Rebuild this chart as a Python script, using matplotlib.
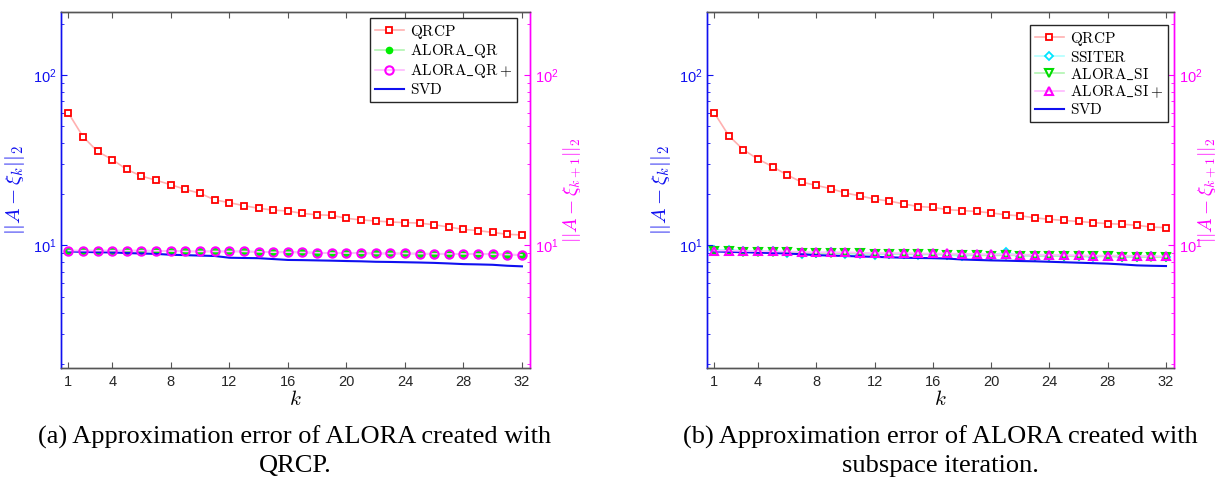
import matplotlib
matplotlib.use('Agg')
import matplotlib.pyplot as plt

plt.rcParams['mathtext.fontset'] = 'cm'
plt.rcParams['font.family'] = ['Liberation Sans', 'DejaVu Sans']

k = list(range(1, 33))
xticks = [1, 4, 8, 12, 16, 20, 24, 28, 32]

# panel (a): ALORA built with QRCP
qrcp_a = [60, 43.5, 35.6, 31.9, 27.9, 25.5, 24.1, 22.7, 21.3, 20.2, 18.5, 17.8, 17.1, 16.5, 16.1, 15.9,
          15.4, 15.1, 15.0, 14.4, 14.1, 13.9, 13.7, 13.6, 13.5, 13.2, 12.8, 12.4, 12.2, 11.9, 11.6, 11.5]
alora_qr = [9.3, 9.3, 9.3, 9.3, 9.3, 9.3, 9.28, 9.25, 9.2, 9.2, 9.2, 9.2, 9.2, 9.15, 9.1, 9.1,
            9.08, 9.05, 9.0, 9.0, 8.98, 8.95, 8.95, 8.95, 8.93, 8.92, 8.9, 8.9, 8.88, 8.85, 8.82, 8.78]
alora_qr_plus = [9.3, 9.3, 9.3, 9.3, 9.3, 9.3, 9.28, 9.25, 9.2, 9.2, 9.2, 9.2, 9.2, 9.15, 9.1, 9.1,
                 9.08, 9.05, 9.0, 9.0, 8.98, 8.95, 8.95, 8.95, 8.93, 8.92, 8.9, 8.9, 8.88, 8.85, 8.82, 8.78]
svd = [9.2, 9.15, 9.1, 9.08, 9.0, 8.95, 8.9, 8.8, 8.75, 8.7, 8.65, 8.45, 8.42, 8.4, 8.3, 8.2,
       8.18, 8.15, 8.12, 8.08, 8.05, 8.0, 7.98, 7.95, 7.92, 7.88, 7.82, 7.75, 7.72, 7.68, 7.58, 7.52]

# panel (b): ALORA built with subspace iteration
qrcp_b = [60, 44.0, 36.4, 32.1, 29.0, 25.9, 23.5, 22.5, 21.5, 20.3, 19.5, 18.7, 18.2, 17.5, 16.9, 16.7,
          16.2, 16.0, 15.8, 15.5, 15.1, 14.9, 14.5, 14.2, 14.0, 13.8, 13.6, 13.4, 13.3, 13.1, 12.8, 12.7]
ssiter = [9.4, 9.4, 9.3, 9.25, 9.2, 9.0, 8.9, 9.0, 9.1, 8.9, 8.9, 8.8, 8.9, 8.85, 8.8, 8.85,
          8.8, 8.6, 8.8, 8.75, 9.1, 8.7, 8.65, 8.6, 8.7, 8.6, 8.55, 8.7, 8.5, 8.55, 8.6, 8.5]
alora_si = [9.2, 9.2, 9.15, 9.15, 9.1, 9.1, 9.05, 9.0, 9.0, 8.95, 8.95, 8.9, 8.9, 8.9, 8.85, 8.85,
            8.8, 8.8, 8.75, 8.7, 8.75, 8.7, 8.65, 8.65, 8.65, 8.6, 8.6, 8.6, 8.55, 8.55, 8.5, 8.55]
alora_si_plus = [9.3, 9.3, 9.25, 9.25, 9.2, 9.2, 9.15, 9.1, 9.1, 9.1, 9.05, 9.0, 9.0, 9.0, 8.95, 8.95,
                 8.95, 8.9, 8.9, 8.85, 8.85, 8.8, 8.8, 8.8, 8.75, 8.75, 8.7, 8.7, 8.7, 8.65, 8.65, 8.6]
svd_b = [9.2, 9.15, 9.1, 9.05, 9.0, 8.95, 8.85, 8.75, 8.7, 8.65, 8.6, 8.55, 8.5, 8.45, 8.42, 8.4,
         8.35, 8.25, 8.2, 8.15, 8.12, 8.08, 8.05, 8.0, 7.95, 7.9, 7.85, 7.8, 7.72, 7.62, 7.58, 7.55]

YLIM = (1.9, 235)
BLUE = '#1010f0'
MAG = '#ff00ff'


def style_axes(ax, ax_r, rpad):
    for a in (ax, ax_r):
        a.set_yscale('log')
        a.set_ylim(*YLIM)
        a.set_xlim(0.5, 32.55)
        a.spines['top'].set_color('#555555')
        a.spines['bottom'].set_color('#555555')
        a.spines['left'].set_color(BLUE)
        a.spines['right'].set_color(MAG)
        for s in a.spines.values():
            s.set_linewidth(1.0)
    ax.set_xticks(xticks)
    ax.tick_params(axis='x', direction='in', top=True, length=4, colors='#555555',
                   labelcolor='#262626', labelsize=10.5, pad=5)
    ax.tick_params(axis='y', which='both', direction='in', colors=BLUE, labelsize=10.5)
    ax.tick_params(axis='y', which='major', length=4)
    ax.tick_params(axis='y', which='minor', length=2.5)
    ax_r.tick_params(axis='y', which='both', direction='in', colors=MAG, labelsize=10.5)
    ax_r.tick_params(axis='y', which='major', length=4)
    ax_r.tick_params(axis='y', which='minor', length=2.5)
    ax.set_xlabel(r'$k$', fontsize=15, labelpad=1)
    ax.set_ylabel(r'$||A-\xi_k||_2$', color=BLUE, fontsize=15, labelpad=4)
    ax_r.set_ylabel(r'$||A-\xi_{k+1}||_2$', color=MAG, fontsize=14, labelpad=rpad)


def add_legend(ax, handles, anchor):
    leg = ax.legend(handles=handles, loc='upper right', bbox_to_anchor=anchor,
                    borderaxespad=0, fancybox=False, edgecolor='#262626', fontsize=11,
                    handlelength=1.9, handletextpad=0.4, labelspacing=0.12, borderpad=0.3,
                    framealpha=1)
    leg.get_frame().set_linewidth(1.0)


fig = plt.figure(figsize=(12.22, 4.79), dpi=100)

# ---- (a)
ax1 = fig.add_axes([61 / 1222, 1 - 368 / 479, 469 / 1222, 356 / 479])
ax1r = ax1.twinx()
h1, = ax1.plot(k, qrcp_a, color='#ffb0b0', lw=1.2, marker='s', ms=4, mfc='white', mec='red', mew=1.3,
               label=r'$\mathrm{QRCP}$')
h2, = ax1.plot(k, alora_qr, color='#b0f5b0', lw=1.2, marker='o', ms=4.5, mfc='#00ee00', mec='#00ee00',
               label=r'$\mathrm{ALORA\_QR}$')
h3, = ax1r.plot(k, alora_qr_plus, color='#ffb8ff', lw=1.2, marker='o', ms=6, mfc='none', mec=MAG, mew=1.5,
                label=r'$\mathrm{ALORA\_QR}+$')
h4, = ax1.plot(k, svd, color=BLUE, lw=1.5, label=r'$\mathrm{SVD}$')
style_axes(ax1, ax1r, 2)
add_legend(ax1r, [h1, h2, h3, h4], (0.972, 0.983))

# ---- (b)
ax2 = fig.add_axes([707 / 1222, 1 - 368 / 479, 467 / 1222, 356 / 479])
ax2r = ax2.twinx()
g1, = ax2.plot(k, qrcp_b, color='#ffb0b0', lw=1.2, marker='s', ms=4, mfc='white', mec='red', mew=1.3,
               label=r'$\mathrm{QRCP}$')
g2, = ax2.plot(k, ssiter, color='#b0ffff', lw=1.2, marker='D', ms=4, mfc='white', mec='#00e5ff', mew=1.3,
               label=r'$\mathrm{SSITER}$')
g3, = ax2.plot(k, alora_si, color='#b0f5b0', lw=1.2, marker='v', ms=6, mfc='white', mec='#00dd00', mew=1.5,
               label=r'$\mathrm{ALORA\_SI}$')
g4, = ax2r.plot(k, alora_si_plus, color='#ffb8ff', lw=1.2, marker='^', ms=6, mfc='none', mec=MAG, mew=1.5,
                label=r'$\mathrm{ALORA\_SI}+$')
g5, = ax2.plot(k, svd_b, color=BLUE, lw=1.5, label=r'$\mathrm{SVD}$')
style_axes(ax2, ax2r, -4)
add_legend(ax2r, [g1, g2, g3, g4, g5], (0.987, 0.963))

# captions
cap = dict(ha='center', va='center', fontsize=19, family=['Liberation Serif', 'DejaVu Serif'])
fig.text(295 / 1222, 1 - 437 / 479, '(a) Approximation error of ALORA created with', **cap)
fig.text(295 / 1222, 1 - 466 / 479, 'QRCP.', **cap)
fig.text(940 / 1222, 1 - 437 / 479, '(b) Approximation error of ALORA created with', **cap)
fig.text(940 / 1222, 1 - 466 / 479, 'subspace iteration.', **cap)

fig.savefig('out.png', dpi=100)
